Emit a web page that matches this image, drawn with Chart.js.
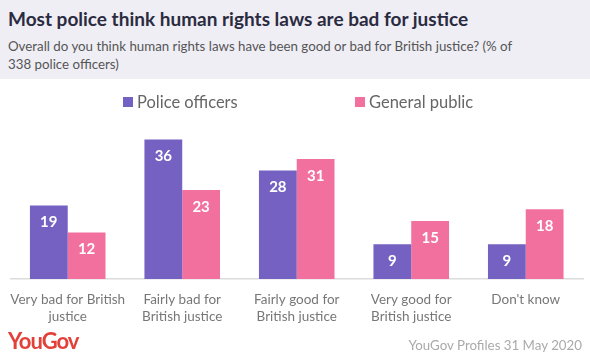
<!DOCTYPE html>
<html><head><meta charset="utf-8">
<script src="https://cdn.jsdelivr.net/npm/chart.js@4"></script>
<style>
html,body{margin:0;padding:0;background:#fff;width:590px;height:357px;overflow:hidden;font-family:Lato,"Open Sans",sans-serif;}
#hdr{position:absolute;left:0;top:0;width:590px;height:79px;background:#efeef5;}
#title{position:absolute;left:8px;top:7px;font-size:19px;font-weight:bold;color:#2b2b3f;white-space:nowrap;}
#sub{position:absolute;left:8px;top:37px;font-size:13.3px;line-height:18px;color:#555;width:580px;white-space:nowrap;}
#leg{position:absolute;top:92px;left:0;width:590px;font-size:16.5px;color:#666;}
.li{position:absolute;top:0;white-space:nowrap;}
.sq{display:inline-block;width:10px;height:10px;margin-right:4px;vertical-align:1px;}
#wrap{position:absolute;left:0;top:80px;width:590px;height:262px;}
#logo{position:absolute;left:8px;top:327px;font-size:22px;font-weight:bold;color:#e3403a;letter-spacing:-1px;}
#src{position:absolute;right:8px;top:337px;font-size:13.3px;color:#aaa;}
</style></head><body>
<div id="hdr"></div>
<div id="title">Most police think human rights laws are bad for justice</div>
<div id="sub">Overall do you think human rights laws have been good or bad for British justice? (% of<br>338 police officers)</div>
<div id="wrap"><canvas id="c" width="590" height="262"></canvas></div>
<div id="leg"></div>
<div id="logo">YouGov</div>
<div id="src">YouGov Profiles 31 May 2020</div>
<script>
const categories = [["Very bad for British","justice"],["Fairly bad for","British justice"],["Fairly good for","British justice"],["Very good for","British justice"],["Don't know"]];
const seriesNames = ["Police officers","General public"];
const policeOfficers = [19,36,28,9,9];
const generalPublic = [12,23,31,15,18];
const colors = ["#7561c1","#f1709e"];

const leg = document.getElementById('leg');
const legX = [123,355];
seriesNames.forEach((n,i)=>{
  const d=document.createElement('div');d.className='li';d.style.left=legX[i]+'px';
  d.innerHTML='<span class="sq" style="background:'+colors[i]+'"></span>'+n;
  leg.appendChild(d);
});

const TICK_FONT = 13.5, TICK_LH = 17, TICK_PAD = 12;

const valueLabels = {
  id:'valueLabels',
  afterDatasetsDraw(chart){
    const ctx=chart.ctx;
    ctx.save();
    ctx.fillStyle='#fff';
    ctx.font='bold 15px Lato, sans-serif';
    ctx.textAlign='center';ctx.textBaseline='middle';
    chart.data.datasets.forEach((ds,di)=>{
      chart.getDatasetMeta(di).data.forEach((bar,i)=>{
        ctx.fillText(String(ds.data[i]),bar.x,bar.y+17);
      });
    });
    // category labels, centred under each category
    const xs = chart.scales.x;
    ctx.fillStyle='#777';
    ctx.font=TICK_FONT+'px Lato, sans-serif';
    ctx.textAlign='center';ctx.textBaseline='middle';
    chart.data.labels.forEach((lab,i)=>{
      const x = xs.getPixelForValue(i);
      const lines = Array.isArray(lab)?lab:[lab];
      lines.forEach((ln,j)=>{
        ctx.fillText(ln,x,chart.chartArea.bottom+TICK_PAD+TICK_LH/2+j*TICK_LH);
      });
    });
    ctx.restore();
  }
};

new Chart(document.getElementById('c'),{
  type:'bar',
  data:{labels:categories,datasets:[
    {label:seriesNames[0],data:policeOfficers,backgroundColor:colors[0]},
    {label:seriesNames[1],data:generalPublic,backgroundColor:colors[1]}
  ]},
  options:{
    responsive:false,animation:false,
    layout:{padding:{left:8,right:7,top:44,bottom:2}},
    plugins:{legend:{display:false},tooltip:{enabled:false}},
    scales:{
      x:{grid:{display:false},border:{display:true,color:'#dcdcdc',width:1.5},
         ticks:{color:'rgba(0,0,0,0)',font:{family:'Lato',size:TICK_FONT,lineHeight:TICK_LH/TICK_FONT},padding:9.5,maxRotation:0,minRotation:0,autoSkip:false}},
      y:{display:false,min:0,max:40}
    },
    datasets:{bar:{categoryPercentage:0.66,barPercentage:1.0}}
  },
  plugins:[valueLabels]
});
</script>
</body></html>
